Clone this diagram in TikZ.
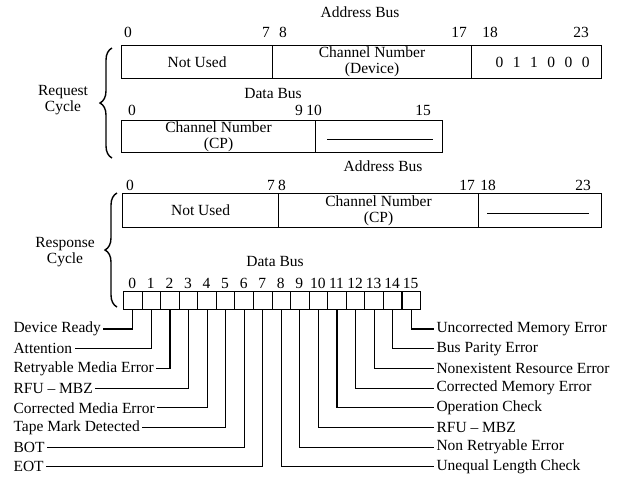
\documentclass[tikz,border=0pt]{standalone}
\usepackage{fontspec}
\setmainfont{Liberation Serif}
\usetikzlibrary{decorations.pathreplacing}

\begin{document}
\begin{tikzpicture}[x=1pt, y=-1pt, line width=1.1pt,
	font=\fontsize{15.5}{16}\selectfont,
	campo/.style={draw, inner sep=0pt, anchor=north west, align=center},
	celda/.style={draw, inner sep=0pt, anchor=north west, minimum width=18.5625pt, minimum height=18pt},
	num/.style={inner sep=0pt},
	etiq/.style={inner sep=2pt, anchor=west},
	llave/.style={decorate, decoration={brace, amplitude=12pt}, line width=1.4pt}]
			\useasboundingbox (0,0) rectangle (619,480);

			% Ciclo de peticion: bus de direcciones
			\node (ab1) at (360,12) {Address Bus};
			\foreach \x/\n in {128/0, 266/7, 283/8, 459/17, 490/18, 581/23}
				{
					\node[num] (a\n) at (\x,32) {\n};
				}
			\node[campo, minimum width=151pt, minimum height=33pt] (nu1) at (121,45) {Not Used};
			\node[campo, minimum width=199pt, minimum height=33pt] (cn1) at (272,45) {Channel Number\\(Device)};
			\node[campo, minimum width=130pt, minimum height=33pt] (cod1) at (471,45)
				{\hspace{12pt}0\hspace{9.5pt}1\hspace{9.5pt}1\hspace{9.5pt}0\hspace{9.5pt}0\hspace{9.5pt}0};

			% Ciclo de peticion: bus de datos
			\node (db1) at (273,93) {Data Bus};
			\foreach \x/\n in {132/0, 299/9, 314/10, 423/15}
				{
					\node[num] (w\n) at (\x,110) {\n};
				}
			\node[campo, minimum width=194pt, minimum height=32pt] (cn2) at (121,120) {Channel Number\\(CP)\hspace{14pt}};
			\node[campo, minimum width=127pt, minimum height=32pt] (vac2) at (315,120) {};
			\draw ([xshift=12pt,yshift=-3pt]vac2.west) -- ([xshift=-10pt,yshift=-3pt]vac2.east);

			% Ciclo de respuesta: bus de direcciones
			\node (ab2) at (383,166) {Address Bus};
			\foreach \x/\n in {130/0, 271/7, 282/8, 467/17, 488/18, 583/23}
				{
					\node[num] (r\n) at (\x,185) {\n};
				}
			\node[campo, minimum width=156pt, minimum height=34pt] (nu3) at (122,193) {Not Used};
			\node[campo, minimum width=200pt, minimum height=34pt] (cn3) at (278,193) {Channel Number\\(CP)};
			\node[campo, minimum width=123pt, minimum height=34pt] (vac3) at (478,193) {};
			\draw ([xshift=9pt,yshift=-3pt]vac3.west) -- ([xshift=-13pt,yshift=-3pt]vac3.east);

			% Ciclo de respuesta: bus de datos
			\node (db2) at (275,261) {Data Bus};
			\foreach \i in {0,...,15}
				{
					\node[celda] (b\i) at ({123+18.5625*\i},291) {};
					\node[num] (d\i) at ({123+18.5625*(\i+0.5)},283) {\i};
				}

			% Etiquetas de los bits
			\foreach \t [count=\k from 0] in {Device Ready, Attention, Retryable Media Error, RFU -- MBZ,
				Corrected Media Error, Tape Mark Detected, BOT, EOT}
				{
					\node[etiq] (L\k) at (11,{329+19.7*\k}) {\t};
					\draw (b\k.south) |- (L\k.east);
				}
			\foreach \t [count=\k from 0, evaluate=\k as \j using int(15-\k)] in {Uncorrected Memory Error,
				Bus Parity Error, Nonexistent Resource Error, Corrected Memory Error, Operation Check,
				RFU -- MBZ, Non Retryable Error, Unequal Length Check}
				{
					\node[etiq] (R\k) at (434,{329+19.7*\k}) {\t};
					\draw (b\j.south) |- (R\k.west);
				}

			% Llaves
			\draw[llave] (112,158) -- (112,48);
			\node[align=center] (req) at (63,100) {Request\\Cycle};
			\draw[llave] (117,307) -- (117,193);
			\node[align=center] (resp) at (65,252) {Response\\Cycle};

		\end{tikzpicture}
\end{document}
